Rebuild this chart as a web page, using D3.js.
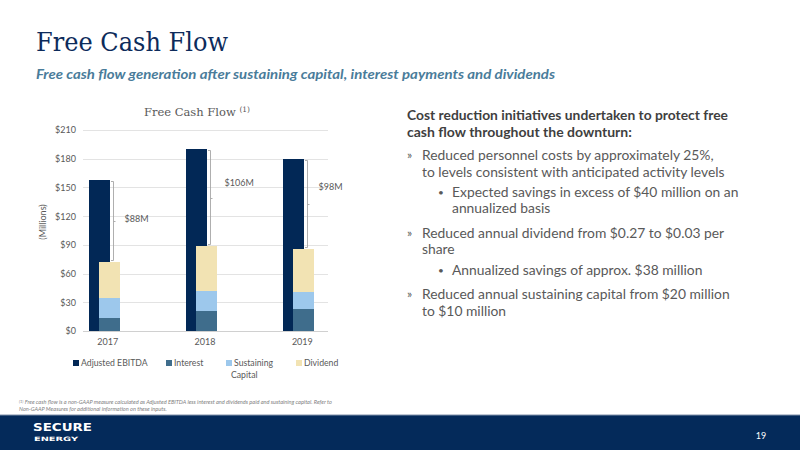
<!DOCTYPE html>
<html><head><meta charset="utf-8">
<script src="https://cdn.jsdelivr.net/npm/d3@7"></script>
<style>html,body{margin:0;padding:0;background:#fff;}svg{display:block;}</style>
</head><body>
<svg id="c" width="800" height="450" shape-rendering="auto"></svg>
<script>
const years = ["2017","2018","2019"];
const ebitda = [158, 190, 180];
const interest = [14, 21, 23];
const sustaining = [20, 21, 18];
const dividend = [38, 47, 45];
const fcfLabels = ["$88M","$106M","$98M"];
const yTicks = [0,30,60,90,120,150,180,210];
const legendNames = [["Adjusted EBITDA"],["Interest"],["Sustaining","Capital"],["Dividend"]];
const colors = {ebitda:"#022856", interest:"#3f6d8c", sustaining:"#9dc8ec", dividend:"#f2e3b3"};
const bullets = [
  {lvl:1, lines:["Reduced personnel costs by approximately 25%,","to levels consistent with anticipated activity levels"]},
  {lvl:2, lines:["Expected savings in excess of $40 million on an","annualized basis"]},
  {lvl:1, lines:["Reduced annual dividend from $0.27 to $0.03 per","share"]},
  {lvl:2, lines:["Annualized savings of approx. $38 million"]},
  {lvl:1, lines:["Reduced annual sustaining capital from $20 million","to $10 million"]}
];

const svg = d3.select("#c");
const sans = "Lato, 'Open Sans', sans-serif";
const serif = "'DejaVu Serif', serif";

// Title
svg.append("text").attr("x",36).attr("y",51).attr("font-family",serif).attr("font-size",26)
  .attr("fill","#0d2b5b").attr("textLength",192).attr("lengthAdjust","spacingAndGlyphs").text("Free Cash Flow");
svg.append("text").attr("x",36).attr("y",79).attr("font-family",sans).attr("font-size",13.2)
  .attr("font-style","italic").attr("font-weight","bold").attr("fill","#4a7c9a")
  .attr("textLength",519).attr("lengthAdjust","spacingAndGlyphs")
  .text("Free cash flow generation after sustaining capital, interest payments and dividends");

// Chart
const y = d3.scaleLinear().domain([0,210]).range([331,130]);
const x = d3.scaleBand().domain(years).range([59,351]);
const ry = v => Math.round(y(v));
const gx0 = 83, gx1 = 328;
const g = svg.append("g");
g.selectAll("line.grid").data(yTicks).join("line").attr("class","grid")
  .attr("x1",gx0).attr("x2",gx1).attr("y1",d=>ry(d)+0.5).attr("y2",d=>ry(d)+0.5)
  .attr("stroke",d=>d===0?"#d0d0d0":"#e3e3e3").attr("stroke-width",1);
const yAxis = d3.axisLeft(y).tickValues(yTicks).tickFormat(d=>"$"+d).tickSize(0).tickPadding(0);
const ya = g.append("g").attr("transform","translate(76,0)").call(yAxis);
ya.select(".domain").remove();
ya.selectAll("text").attr("font-family",sans).attr("font-size",9).attr("fill","#595959");

const xAxis = d3.axisBottom(x).tickSize(0).tickPadding(0);
const xa = g.append("g").attr("transform","translate(0,339)").call(xAxis);
xa.select(".domain").remove();
xa.selectAll("text").attr("font-family",sans).attr("font-size",9).attr("fill","#595959").attr("dy","0.71em");

svg.append("text").attr("transform","translate(46,222) rotate(-90)").attr("text-anchor","middle")
  .attr("font-family",sans).attr("font-size",9).attr("fill","#595959").text("(Millions)");

const ct = svg.append("text").attr("x",197).attr("y",116).attr("text-anchor","middle")
  .attr("font-family",serif).attr("font-size",11.5).attr("fill","#595959");
ct.append("tspan").text("Free Cash Flow ");
ct.append("tspan").attr("font-size",7.5).attr("dy",-4).text("(1)");

const cx = d => Math.round(x(d) + x.bandwidth()/2);
// EBITDA bars
g.selectAll("rect.eb").data(years).join("rect").attr("class","eb")
  .attr("x",d=>cx(d)-19).attr("width",21)
  .attr("y",(d,i)=>ry(ebitda[i])).attr("height",(d,i)=>ry(0)-ry(ebitda[i]))
  .attr("fill",colors.ebitda);
// stacked
const stackData = years.map((yr,i)=>({year:yr, interest:interest[i], sustaining:sustaining[i], dividend:dividend[i]}));
const stack = d3.stack().keys(["interest","sustaining","dividend"])(stackData);
stack.forEach(layer=>{
  g.selectAll("rect.s-"+layer.key).data(layer).join("rect").attr("class","s-"+layer.key)
    .attr("x",d=>cx(d.data.year)-9).attr("width",21)
    .attr("y",d=>ry(d[1])).attr("height",d=>ry(d[0])-ry(d[1]))
    .attr("fill",colors[layer.key]);
});
// brackets
years.forEach((yr,i)=>{
  const top = ry(ebitda[i]) + 1.5, bot = ry(interest[i]+sustaining[i]+dividend[i]) - 1.5;
  const lx = cx(yr) + 5.5;
  const mid = Math.round((top+bot)/2)+0.5;
  g.append("path").attr("d",`M${lx-2.5},${top}H${lx}V${bot}H${lx-2.5}`)
    .attr("fill","none").attr("stroke","#a6a6a6").attr("stroke-width",0.9);
  g.append("path").attr("d",`M${lx},${mid}h2`).attr("stroke","#a6a6a6").attr("stroke-width",0.9);
  g.append("text").attr("x",lx+ (i===1?14:11)).attr("y",mid - (i===0?3:i===1?16:18)).attr("dy","0.35em")
    .attr("font-family",sans).attr("font-size",9).attr("fill","#595959").text(fcfLabels[i]);
});

// legend
const legX = [73,166,226,296];
const legKeys = ["ebitda","interest","sustaining","dividend"];
legendNames.forEach((nm,i)=>{
  svg.append("rect").attr("x",legX[i]).attr("y",360).attr("width",6).attr("height",6).attr("fill",colors[legKeys[i]]);
  nm.forEach((t,j)=>{
    svg.append("text").attr("x",legX[i]+(j===0?8:5)).attr("y",363+j*12).attr("dy","0.35em")
      .attr("font-family",sans).attr("font-size",8.7).attr("fill","#595959").text(t);
  });
});

// right text
const rt = svg.append("g").attr("font-family",sans);
rt.append("text").attr("x",407).attr("y",120).attr("font-size",14).attr("font-weight","bold").attr("fill","#3f3f3f")
  .attr("textLength",321).attr("lengthAdjust","spacingAndGlyphs").text("Cost reduction initiatives undertaken to protect free");
rt.append("text").attr("x",407).attr("y",137).attr("font-size",14).attr("font-weight","bold").attr("fill","#3f3f3f")
  .text("cash flow throughout the downturn:");
const ys = [[155,172],[192,208],[233,249],[270],[294,311]];
bullets.forEach((b,i)=>{
  const tx = b.lvl===1?422:452;
  rt.append("text").attr("x",b.lvl===1?407:438).attr("y",ys[i][0]).attr("dy","0.35em")
    .attr("font-size",b.lvl===1?12:10).attr("fill","#595959").text(b.lvl===1?"»":"•");
  b.lines.forEach((l,j)=>{
    rt.append("text").attr("x",tx).attr("y",ys[i][j]).attr("dy","0.35em")
      .attr("font-size",13.85).attr("fill","#595959").text(l);
  });
});

// footnote
const fn = svg.append("g").attr("font-family",sans).attr("font-size",5.6).attr("font-style","italic").attr("fill","#808080");
const f1 = fn.append("text").attr("x",19).attr("y",404);
f1.append("tspan").attr("font-size",4).attr("dy",-1.5).text("(1)");
f1.append("tspan").attr("dy",1.5).text(" Free cash flow is a non-GAAP measure calculated as Adjusted EBITDA less interest and dividends paid and sustaining capital. Refer to");
fn.append("text").attr("x",19).attr("y",411).text("Non-GAAP Measures for additional information on these inputs.");

// footer
svg.append("rect").attr("x",0).attr("y",415).attr("width",800).attr("height",35).attr("fill","#042a5a");
svg.append("line").attr("x1",0).attr("x2",800).attr("y1",415).attr("y2",415).attr("stroke","#7f8fa8").attr("stroke-width",1);
svg.append("text").attr("x",33).attr("y",431).attr("font-family","'DejaVu Sans', sans-serif").attr("font-weight","bold")
  .attr("font-size",11).attr("fill","#ffffff").attr("textLength",59).attr("lengthAdjust","spacingAndGlyphs").text("SECURE");
svg.append("text").attr("x",34).attr("y",441).attr("font-family","'DejaVu Sans', sans-serif").attr("font-weight","bold")
  .attr("font-size",6).attr("fill","#ffffff").attr("textLength",44).attr("lengthAdjust","spacingAndGlyphs").text("ENERGY");
svg.append("text").attr("x",761).attr("y",436).attr("dy","0.35em").attr("text-anchor","middle").attr("font-family",sans)
  .attr("font-size",9).attr("fill","#ffffff").text("19");
</script>
</body></html>
